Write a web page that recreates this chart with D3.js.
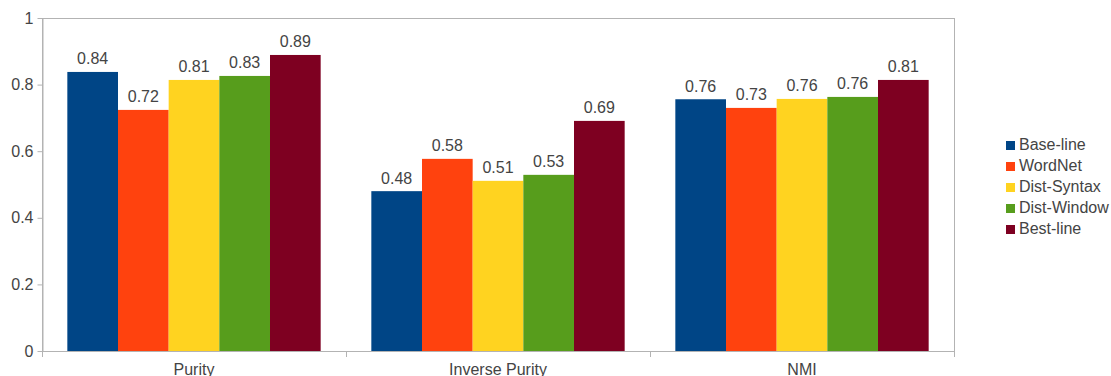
<!DOCTYPE html>
<html><head><meta charset="utf-8">
<script src="https://cdn.jsdelivr.net/npm/d3@7"></script>
<style>body{margin:0;background:#fff}svg{display:block}text{font-family:"Liberation Sans",Arial,sans-serif}</style>
</head><body>
<svg id="c" width="1111" height="376"></svg>
<script>
const categories = ["Purity", "Inverse Purity", "NMI"];
const seriesNames = ["Base-line", "WordNet", "Dist-Syntax", "Dist-Window", "Best-line"];
const baseline = [0.838, 0.480, 0.756];
const wordnet = [0.724, 0.577, 0.730];
const distSyntax = [0.814, 0.511, 0.757];
const distWindow = [0.826, 0.529, 0.763];
const bestline = [0.889, 0.691, 0.814];
const yTicks = [0, 0.2, 0.4, 0.6, 0.8, 1];
const colors = ["#004586", "#ff420e", "#ffd320", "#579d1c", "#7e0021"];
const series = [baseline, wordnet, distSyntax, distWindow, bestline];

const svg = d3.select("#c");
const L = 42, R = 954, T = 18, B = 351;
const FS = 16;
const x0 = d3.scaleBand().domain(categories).range([L, R]).paddingInner(0).paddingOuter(0);
const x1 = d3.scaleBand().domain(seriesNames).range([0, x0.bandwidth()]).paddingOuter(0.5).paddingInner(0);
const y = d3.scaleLinear().domain([0, 1]).range([B, T]);
const axisColor = "#b3b3b3", textColor = "#444";

// frame
svg.append("rect").attr("x", L + 0.5).attr("y", T + 0.5).attr("width", R - L).attr("height", B - T)
  .attr("fill", "none").attr("stroke", axisColor);

// y axis
const ya = svg.append("g").attr("transform", `translate(${L + 0.5},0)`)
  .call(d3.axisLeft(y).tickValues(yTicks).tickFormat(d => String(+d.toFixed(1))).tickSize(5).tickSizeOuter(0));
ya.select(".domain").attr("stroke", axisColor);
ya.selectAll(".tick line").attr("stroke", axisColor);
ya.selectAll(".tick text").attr("fill", textColor).attr("font-size", FS).attr("x", -9);

// x axis
const xa = svg.append("g").attr("transform", `translate(0,${B})`)
  .call(d3.axisBottom(x0).tickSize(0).tickSizeOuter(0));
xa.select(".domain").remove();
xa.selectAll(".tick text").attr("fill", textColor).attr("font-size", FS).attr("dy", 0).attr("y", 23.5);
// category boundary ticks
const bounds = categories.map(c => x0(c)).concat([R]);
svg.append("g").selectAll("line").data(bounds).join("line")
  .attr("x1", d => Math.round(d) + 0.5).attr("x2", d => Math.round(d) + 0.5)
  .attr("y1", B).attr("y2", B + 6).attr("stroke", axisColor);

// bars
const g = svg.append("g");
categories.forEach((c, ci) => {
  seriesNames.forEach((s, si) => {
    const v = series[si][ci];
    const bx = x0(c) + x1(s);
    g.append("rect").attr("x", bx).attr("y", y(v)).attr("width", x1.bandwidth()).attr("height", y(0) - y(v))
      .attr("fill", colors[si]);
    g.append("text").attr("x", bx + x1.bandwidth() / 2).attr("y", y(v) - 7.5)
      .attr("text-anchor", "middle").attr("font-size", FS).attr("fill", textColor)
      .text(d3.format(".2f")(v));
  });
});

// legend
const lg = svg.append("g");
seriesNames.forEach((s, i) => {
  const by = 150 + i * 21;
  lg.append("rect").attr("x", 1006).attr("y", by - 9).attr("width", 9).attr("height", 9).attr("fill", colors[i]);
  lg.append("text").attr("x", 1019).attr("y", by).attr("font-size", FS).attr("fill", textColor).text(s);
});
</script>
</body></html>
